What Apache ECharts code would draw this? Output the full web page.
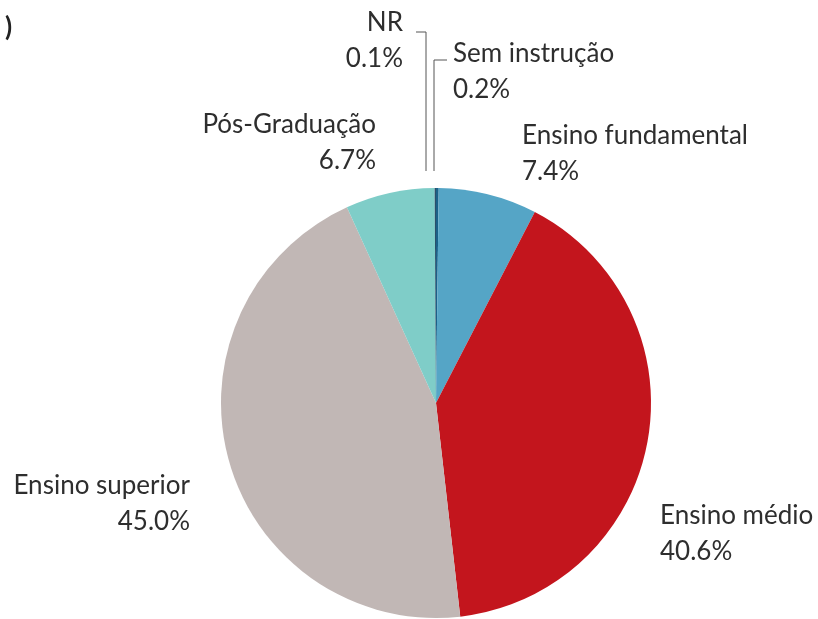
<!DOCTYPE html>
<html>
<head>
<meta charset="utf-8">
<script src="https://cdn.jsdelivr.net/npm/echarts@6/dist/echarts.min.js"></script>
<style>
  html, body { margin: 0; padding: 0; background: #fff; }
  #chart1 { width: 818px; height: 619px; }
</style>
</head>
<body>
<div id="chart1"></div>
<script>
// dados da pizza (sentido horário a partir do topo)
var categorias = ['Sem instrução', 'Ensino fundamental', 'Ensino médio', 'Ensino superior', 'Pós-Graduação', 'NR'];
var percentuais = [0.2, 7.4, 40.6, 45.0, 6.7, 0.1];
var cores = ['#1b6188', '#55a5c6', '#c3151d', '#c1b7b5', '#7fcdc8', '#2b4f6a'];

var cx = 436, cy = 403, raio = 215;   // posição da pizza
// posição dos rótulos: [x, topo, alinhamento]
var rotulos = [
    [453, 36, 'left'],
    [522, 118, 'left'],
    [660, 498, 'left'],
    [190, 468, 'right'],
    [376, 107, 'right'],
    [403, 5, 'right']
];

function drawPie() {
    var myChart = echarts.init(document.getElementById('chart1'));

    var dados = [];
    for (var i = 0; i < categorias.length; i++) {
        var temLinha = (categorias[i] == 'NR' || categorias[i] == 'Sem instrução');
        dados.push({
            name: categorias[i],
            value: percentuais[i],
            itemStyle: { color: cores[i] },
            labelLine: { show: temLinha }
        });
    }

    var option = {
        backgroundColor: '#fff',
        animation: false,
        graphic: [{
            type: 'text',
            left: 5,
            top: 15,
            style: { text: ')', font: 'bold 26px Lato', fill: '#222' }
        }],
        series: [{
            name: 'Escolaridade',
            type: 'pie',
            center: [cx, cy],
            radius: raio,
            startAngle: 90,
            clockwise: true,
            avoidLabelOverlap: false,
            itemStyle: { borderWidth: 0 },
            label: {
                show: true,
                position: 'outside',
                fontFamily: 'Lato',
                fontSize: 26,
                lineHeight: 36,
                color: '#2e2e2e',
                formatter: function (p) {
                    return p.name + '\n' + p.value.toFixed(1) + '%';
                }
            },
            labelLine: {
                show: true,
                lineStyle: { color: '#555', width: 1 }
            },
            labelLayout: function (params) {
                var r = rotulos[params.dataIndex];
                var res = {
                    x: r[0],
                    y: r[1],
                    align: r[2],
                    verticalAlign: 'top'
                };
                var fimY = cy - raio - 17;
                if (params.dataIndex == 5) {   // NR
                    res.labelLinePoints = [[r[0] + 13, r[1] + 27], [cx - 10, r[1] + 27], [cx - 10, fimY]];
                } else if (params.dataIndex == 0) {   // Sem instrução
                    res.labelLinePoints = [[r[0] - 6, r[1] + 24], [cx - 2, r[1] + 24], [cx - 2, fimY]];
                }
                return res;
            },
            data: dados
        }]
    };
    myChart.setOption(option);
}

drawPie();
</script>
</body>
</html>
